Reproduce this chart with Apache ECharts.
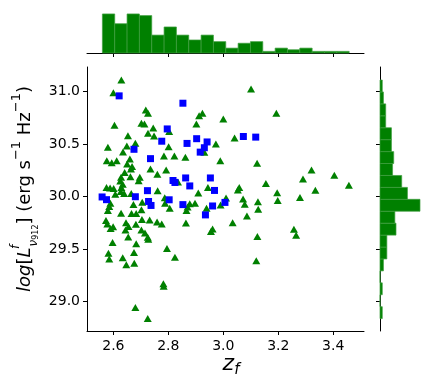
<!DOCTYPE html>
<html>
<head>
<meta charset="utf-8">
<script src="https://cdn.jsdelivr.net/npm/echarts@6/dist/echarts.min.js"></script>
<style>
html,body{margin:0;padding:0;background:#fff;}
#main{width:436px;height:382px;}
</style>
</head>
<body>
<div id="main"></div>
<script>
// blue squares [z_f, log L]
var squares = [
  [2.621,30.96],[2.853,30.89],[2.796,30.645],[2.776,30.528],[2.675,30.451],
  [2.868,30.507],[2.903,30.552],[2.941,30.521],[2.931,30.466],[2.916,30.424],
  [2.735,30.362],[3.073,30.573],[3.118,30.567],[2.817,30.154],[2.824,30.135],
  [2.863,30.178],[2.878,30.102],[2.953,30.178],[2.968,30.059],[2.724,30.057],
  [2.559,29.997],[2.575,29.971],[2.68,29.999],[2.728,29.954],[2.737,29.916],
  [2.803,29.97],[2.853,29.924],[2.961,29.911],[2.935,29.826],[3.006,29.945]
];
// green triangles [z_f, log L]
var triangles = [
  [2.629,31.111],[2.6,30.99],[2.718,30.826],[2.726,30.794],[2.912,30.771],
  [2.924,30.794],[3.0,30.74],[3.101,31.026],[3.193,30.794],[2.604,30.68],
  [2.702,30.699],[2.713,30.692],[2.902,30.692],[2.745,30.654],[2.726,30.604],
  [2.748,30.578],[2.653,30.581],[2.803,30.621],[3.041,30.559],[2.973,30.502],
  [2.58,30.47],[2.649,30.483],[2.68,30.509],[2.801,30.476],[2.635,30.426],
  [2.784,30.388],[2.822,30.388],[2.862,30.375],[2.931,30.423],[2.989,30.343],
  [3.123,30.318],[2.576,30.343],[2.594,30.324],[2.612,30.343],[2.66,30.359],
  [2.65,30.311],[2.668,30.286],[2.664,30.264],[2.735,30.264],[2.76,30.213],
  [2.792,30.254],[2.641,30.229],[2.628,30.185],[2.662,30.19],[2.696,30.185],
  [2.692,30.152],[2.625,30.15],[2.634,30.118],[2.835,30.14],[3.321,30.254],
  [3.29,30.169],[3.404,30.204],[3.457,30.109],[3.155,30.124],[3.058,30.086],
  [3.053,30.064],[3.335,30.061],[3.196,30.038],[2.944,30.088],[2.909,30.035],
  [2.761,30.057],[2.575,30.088],[2.588,30.083],[2.601,30.078],[2.629,30.086],
  [2.627,30.048],[2.607,30.023],[2.639,30.03],[2.665,30.029],[2.787,29.99],
  [3.01,29.988],[3.072,29.978],[3.279,29.992],[3.126,29.952],[3.198,29.964],
  [2.705,29.947],[2.673,29.926],[2.589,29.937],[2.585,29.905],[2.58,29.867],
  [2.788,29.937],[2.805,29.89],[2.702,29.876],[2.666,29.84],[2.683,29.84],
  [2.628,29.842],[2.878,29.933],[2.897,29.937],[2.87,29.902],[2.866,29.869],
  [2.939,29.89],[2.99,29.921],[3.078,29.928],[3.127,29.88],[3.086,29.816],
  [2.704,29.783],[2.732,29.778],[2.759,29.759],[2.776,29.74],[2.573,29.773],
  [2.578,29.74],[2.59,29.697],[2.599,29.714],[2.646,29.752],[2.655,29.716],
  [2.644,29.683],[2.682,29.737],[2.702,29.683],[2.715,29.654],[2.725,29.613],
  [2.727,29.594],[2.654,29.616],[2.864,29.75],[3.034,29.752],[2.961,29.692],
  [2.955,29.667],[3.257,29.69],[3.265,29.632],[3.124,29.621],[2.597,29.564],
  [2.683,29.551],[2.795,29.505],[2.582,29.461],[2.585,29.407],[2.634,29.419],
  [2.675,29.467],[2.647,29.35],[2.676,29.366],[2.824,29.423],[3.12,29.39],
  [2.782,29.171],[2.783,29.147],[2.68,28.943],[2.725,28.838]
];

// histogram of z_f (top panel)
var zfBinStart = 2.56, zfBinEnd = 3.458;
var zfCounts = [24,18,24,23,11,16,11,8,11,7,3,6,7,1,3,2,3,1,1,1];
// histogram of log L (right panel), bins bottom to top
var lumBinStart = 28.838, lumBinEnd = 31.111;
var lumCounts = [2,0,2,0,3,6,6,14,13,35,24,19,11,12,10,10,5,5,3,2];

var xTicks = [2.6, 2.8, 3.0, 3.2, 3.4];
var yTicks = [29.0, 29.5, 30.0, 30.5, 31.0];

var xMin = 2.504, xMax = 3.512;
var yMin = 28.72, yMax = 31.235;

function binData(start, end, counts, horizontal) {
  var w = (end - start) / counts.length;
  return counts.map(function (c, i) {
    var a = start + i * w, b = start + (i + 1) * w;
    return horizontal ? [c, a, b] : [a, b, c];
  });
}

var barStyle = {fill: '#008000', stroke: '#3f9f3f', lineWidth: 0.7};

var myChart = echarts.init(document.getElementById('main'));
var font = 'DejaVu Sans';
var axisLineStyle = {color: '#000', width: 1};

myChart.setOption({
  animation: false,
  grid: [
    {left: 87, top: 67, width: 277, height: 264},
    {left: 87, top: 12, width: 277, height: 41},
    {left: 380, top: 67, width: 42, height: 264}
  ],
  xAxis: [
    {
      gridIndex: 0, type: 'value', min: xMin, max: xMax,
      splitLine: {show: false},
      axisLine: {onZero: false, lineStyle: axisLineStyle},
      axisTick: {length: 4, lineStyle: axisLineStyle, customValues: xTicks},
      axisLabel: {margin: 8, fontSize: 14, fontFamily: font, color: '#000',
        customValues: xTicks, formatter: function (v) { return v.toFixed(1); }}
    },
    {
      gridIndex: 1, type: 'value', min: xMin, max: xMax,
      splitLine: {show: false},
      axisLine: {onZero: false, lineStyle: axisLineStyle},
      axisTick: {length: 4, lineStyle: axisLineStyle, customValues: xTicks},
      axisLabel: {show: false}
    },
    {gridIndex: 2, type: 'value', min: 0, max: 36.75, show: false}
  ],
  yAxis: [
    {
      gridIndex: 0, type: 'value', min: yMin, max: yMax,
      splitLine: {show: false},
      axisLine: {show: true, onZero: false, lineStyle: axisLineStyle},
      axisTick: {show: true, length: 4, lineStyle: axisLineStyle, customValues: yTicks},
      axisLabel: {margin: 7, fontSize: 14, fontFamily: font, color: '#000',
        customValues: yTicks, formatter: function (v) { return v.toFixed(1); }}
    },
    {gridIndex: 1, type: 'value', min: 0, max: 25.2, show: false},
    {
      gridIndex: 2, type: 'value', min: yMin, max: yMax,
      splitLine: {show: false},
      axisLine: {show: true, onZero: false, lineStyle: axisLineStyle},
      axisTick: {show: true, length: 4, lineStyle: axisLineStyle, customValues: yTicks},
      axisLabel: {show: false}
    }
  ],
  graphic: [
    {
      type: 'text', x: 25, y: 189, rotation: Math.PI / 2,
      style: {
        text: '{i|log}{r|[}{i|L}{f|f}{n|ν}{d|912}{r|] (erg s}{s|−1}{r| Hz}{s|−1}{r|)}',
        align: 'center', verticalAlign: 'middle',
        rich: {
          r: {fontSize: 18, lineHeight: 30, fontFamily: font, color: '#000'},
          i: {fontSize: 18, lineHeight: 30, fontFamily: font, fontStyle: 'italic', color: '#000'},
          f: {fontSize: 12, lineHeight: 14, verticalAlign: 'top', width: 1, fontFamily: font, fontStyle: 'italic', color: '#000'},
          n: {fontSize: 12, lineHeight: 13, verticalAlign: 'bottom', fontFamily: font, fontStyle: 'italic', color: '#000'},
          d: {fontSize: 8, lineHeight: 6, verticalAlign: 'bottom', fontFamily: font, color: '#000'},
          s: {fontSize: 13, lineHeight: 16, verticalAlign: 'top', fontFamily: font, color: '#000'}
        }
      }
    },
    {
      type: 'text', x: 231, y: 364,
      style: {
        text: '{i|z}{s|f}',
        align: 'center', verticalAlign: 'middle',
        rich: {
          i: {fontSize: 22, lineHeight: 28, fontFamily: font, fontStyle: 'italic', color: '#000'},
          s: {fontSize: 15, lineHeight: 14, verticalAlign: 'bottom', fontFamily: font, fontStyle: 'italic', color: '#000'}
        }
      }
    }
  ],
  series: [
    {
      type: 'scatter', xAxisIndex: 0, yAxisIndex: 0,
      symbol: 'triangle', symbolSize: [8, 7],
      itemStyle: {color: '#008000', opacity: 1},
      data: triangles
    },
    {
      type: 'scatter', xAxisIndex: 0, yAxisIndex: 0,
      symbol: 'rect', symbolSize: 7,
      itemStyle: {color: '#0000ff', opacity: 1},
      data: squares
    },
    {
      type: 'custom', xAxisIndex: 1, yAxisIndex: 1,
      encode: {x: [0, 1], y: 2},
      data: binData(zfBinStart, zfBinEnd, zfCounts, false),
      renderItem: function (params, api) {
        var p0 = api.coord([api.value(0), 0]);
        var p1 = api.coord([api.value(1), api.value(2)]);
        return {type: 'rect',
          shape: {x: p0[0], y: p1[1], width: p1[0] - p0[0], height: p0[1] - p1[1]},
          style: barStyle};
      }
    },
    {
      type: 'custom', xAxisIndex: 2, yAxisIndex: 2,
      encode: {x: 0, y: [1, 2]},
      data: binData(lumBinStart, lumBinEnd, lumCounts, true),
      renderItem: function (params, api) {
        var p0 = api.coord([0, api.value(1)]);
        var p1 = api.coord([api.value(0), api.value(2)]);
        return {type: 'rect',
          shape: {x: p0[0], y: p1[1], width: p1[0] - p0[0], height: p0[1] - p1[1]},
          style: barStyle};
      }
    }
  ]
});
</script>
</body>
</html>
